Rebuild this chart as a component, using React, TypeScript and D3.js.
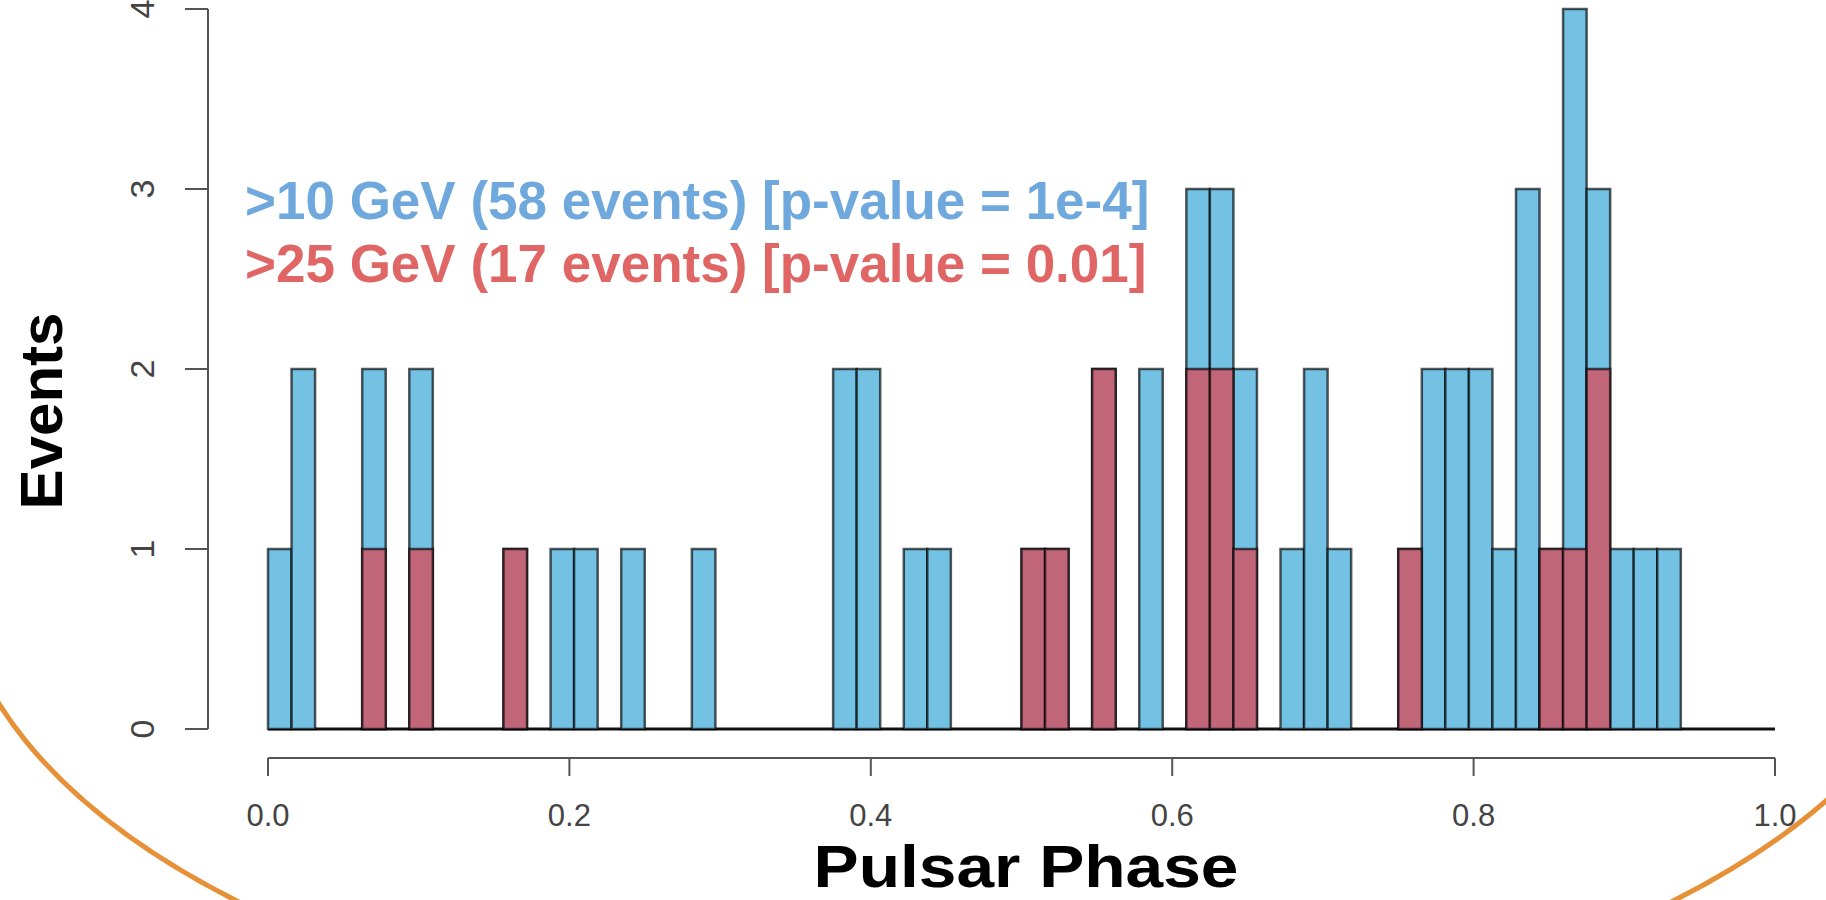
import React from "react";
import * as d3 from "d3";

// Histogram breaks: 64 equal bins over pulsar phase [0, 1]
const binCount = 64;
// >10 GeV events (58 total): bin index and count
const allBins = [0, 1, 4, 6, 10, 12, 13, 15, 18, 24, 25, 27, 28, 32, 33, 35, 37, 39, 40, 41, 43, 44, 45, 48, 49, 50, 51, 52, 53, 54, 55, 56, 57, 58, 59];
const allCounts = [1, 2, 2, 2, 1, 1, 1, 1, 1, 2, 2, 1, 1, 1, 1, 2, 2, 3, 3, 2, 1, 2, 1, 1, 2, 2, 2, 1, 3, 1, 4, 3, 1, 1, 1];
// >25 GeV events (17 total)
const highBins = [4, 6, 10, 32, 33, 35, 39, 40, 41, 48, 54, 55, 56];
const highCounts = [1, 1, 1, 1, 1, 2, 2, 2, 1, 1, 1, 1, 2];

const xTicks = [0, 0.2, 0.4, 0.6, 0.8, 1.0];
const yTicks = [0, 1, 2, 3, 4];
const legendLines = [
  ">10 GeV (58 events) [p-value = 1e-4]",
  ">25 GeV (17 events) [p-value = 0.01]",
];
const legendColors = ["#6fa8dc", "#e06666"];

const W = 1826;
const H = 900;
const FONT = "'Liberation Sans', Arial, Helvetica, sans-serif";

export default function App() {
  const x = d3.scaleLinear().domain([0, 1]).range([268, 1775]);
  const y = d3.scaleLinear().domain([0, 4]).range([729, 9]);
  const bw = 1 / binCount;

  const allData = allBins.map((b, i) => ({ x0: b * bw, x1: (b + 1) * bw, n: allCounts[i] }));
  const highData = highBins.map((b, i) => ({ x0: b * bw, x1: (b + 1) * bw, n: highCounts[i] }));

  const barStroke = "rgba(0,0,0,0.65)";

  return (
    <svg
      width={W}
      height={H}
      style={{ position: "absolute", left: 0, top: 0, background: "#fff", overflow: "hidden" }}
      fontFamily={FONT}
    >
      <defs>
        <clipPath id="lowerHalf">
          <rect x={0} y={560} width={W} height={H - 560} />
        </clipPath>
      </defs>
      <rect x={0} y={0} width={W} height={H} fill="#fff" />
      {/* baseline of histogram */}
      <line x1={x(0)} x2={x(1)} y1={y(0)} y2={y(0)} stroke="#111" strokeWidth={3} />
      {/* >10 GeV bars */}
      {allData.map((d, i) => (
        <rect
          key={"a" + i}
          x={x(d.x0)}
          y={y(d.n)}
          width={x(d.x1) - x(d.x0)}
          height={y(0) - y(d.n)}
          fill="#73c2e4"
          stroke={barStroke}
          strokeWidth={2.5}
        />
      ))}
      {/* >25 GeV bars */}
      {highData.map((d, i) => (
        <rect
          key={"h" + i}
          x={x(d.x0)}
          y={y(d.n)}
          width={x(d.x1) - x(d.x0)}
          height={y(0) - y(d.n)}
          fill="#c06678"
          stroke={barStroke}
          strokeWidth={2.5}
        />
      ))}

      {/* Y axis */}
      <line x1={208} x2={208} y1={y(0)} y2={y(4)} stroke="#555" strokeWidth={2} />
      {yTicks.map((t) => (
        <g key={"yt" + t}>
          <line x1={185} x2={208} y1={y(t)} y2={y(t)} stroke="#555" strokeWidth={2} />
          <text
            transform={`translate(142,${y(t)}) rotate(-90)`}
            textAnchor="middle"
            dominantBaseline="central"
            fontSize={34}
            fill="#444"
          >
            {t}
          </text>
        </g>
      ))}

      {/* X axis */}
      <line x1={x(0)} x2={x(1)} y1={758} y2={758} stroke="#555" strokeWidth={2} />
      {xTicks.map((t) => (
        <g key={"xt" + t}>
          <line x1={x(t)} x2={x(t)} y1={758} y2={776} stroke="#555" strokeWidth={2} />
          <text x={x(t)} y={815} textAnchor="middle" dominantBaseline="central" fontSize={31} fill="#444">
            {t.toFixed(1)}
          </text>
        </g>
      ))}

      {/* Axis titles */}
      <text
        x={1026}
        y={887}
        textAnchor="middle"
        fontSize={60}
        fontWeight="bold"
        fill="#000"
        textLength={425}
        lengthAdjust="spacingAndGlyphs"
      >
        Pulsar Phase
      </text>
      <text
        transform={`translate(62,411) rotate(-90)`}
        textAnchor="middle"
        fontSize={60}
        fontWeight="bold"
        fill="#000"
      >
        Events
      </text>

      {/* Legend text */}
      {legendLines.map((s, i) => (
        <text key={"lg" + i} x={245} y={219 + i * 63} fontSize={53} fontWeight="bold" fill={legendColors[i]}>
          {s}
        </text>
      ))}

      {/* decorative orange oval frame (lower part visible) */}
      <ellipse
        cx={955}
        cy={560}
        rx={1000}
        ry={490}
        fill="none"
        stroke="#e69138"
        strokeWidth={5}
        clipPath="url(#lowerHalf)"
      />
    </svg>
  );
}
